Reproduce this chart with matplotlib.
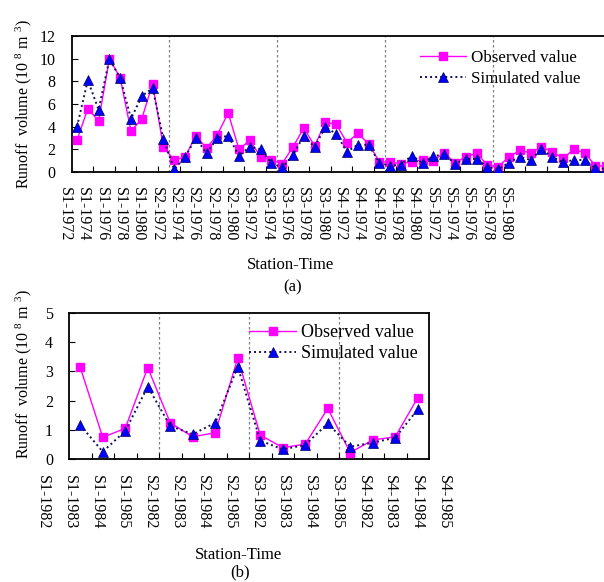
import numpy as np
import matplotlib
matplotlib.use("Agg")
import matplotlib.pyplot as plt
from matplotlib import transforms

plt.rcParams["font.family"] = "Liberation Serif"
plt.rcParams["mathtext.fontset"] = "custom"
plt.rcParams["mathtext.rm"] = "Liberation Serif"

# ── Data ───────────────────────────────────────────────────────────────────────
# (a) calibration period, 10 values per station, labels every other year
labels_a = [f"S{s}-{y}" for s in range(1, 6) for y in (1972, 1974, 1976, 1978, 1980)]
obs_a = [2.8, 5.6, 4.5, 10.0, 8.3, 3.6, 4.7, 7.8, 2.2, 1.05,
         1.3, 3.2, 2.1, 3.3, 5.2, 2.0, 2.8, 1.35, 1.05, 0.75,
         2.2, 3.9, 2.3, 4.4, 4.2, 2.6, 3.4, 2.5, 0.9, 0.85,
         0.75, 0.9, 1.05, 1.0, 1.7, 0.8, 1.35, 1.65, 0.6, 0.45,
         1.35, 1.9, 1.7, 2.2, 1.8, 1.2, 2.0, 1.7, 0.55, 0.5]
sim_a = [4.0, 8.1, 5.5, 9.95, 8.3, 4.7, 6.7, 7.4, 2.9, 0.25,
         1.3, 3.0, 1.65, 3.0, 3.2, 1.4, 2.25, 2.0, 0.8, 0.4,
         1.5, 3.2, 2.2, 4.0, 3.35, 1.8, 2.4, 2.4, 0.82, 0.55,
         0.65, 1.45, 0.78, 1.4, 1.55, 0.75, 1.15, 1.15, 0.45, 0.25,
         0.82, 1.35, 1.06, 2.0, 1.35, 0.85, 1.06, 1.06, 0.32, 0.3]

# (b) validation period
labels_b = [f"S{s}-{y}" for s in range(1, 5) for y in (1982, 1983, 1984, 1985)]
obs_b = [3.14, 0.74, 1.05, 3.13, 1.24, 0.76, 0.9, 3.45,
         0.82, 0.39, 0.51, 1.73, 0.22, 0.65, 0.76, 2.1]
sim_b = [1.16, 0.25, 0.96, 2.48, 1.13, 0.85, 1.24, 3.16,
         0.63, 0.33, 0.48, 1.22, 0.42, 0.56, 0.73, 1.7]

OBS_C = "#FF00FF"
SIM_C = "#0000FF"
SIM_LINE = "#10105A"
YLABEL = r"Runoff  volume (10 $\mathregular{^{8}}$ m $\mathregular{^{3}}$)"

fig = plt.figure(figsize=(6.04, 5.82), dpi=100)
W, H = 604.0, 582.0


def px_axes(l, t, r, b):
    return fig.add_axes([l / W, 1 - b / H, (r - l) / W, (b - t) / H])


def draw(ax, obs, sim, ylim, ystep, seps, mtick_step, ms_sq, ms_tri):
    x = np.arange(1, len(obs) + 1)
    for s in seps:
        ax.axvline(s, color="#7F7F7F", lw=0.9, ls=(0, (2, 2)), zorder=1)
    ax.plot(x, obs, color=OBS_C, lw=1.0, marker="s", ms=ms_sq,
            mfc=OBS_C, mec=OBS_C, zorder=3, label="Observed value")
    ax.plot(x, sim, color=SIM_LINE, lw=1.4, ls=(0, (1, 1.6)), marker="^",
            ms=ms_tri, mfc=SIM_C, mec="#000060", mew=0.5, zorder=4,
            label="Simulated value")
    ax.set_xlim(0.5, len(obs) + 0.5)
    ax.set_ylim(*ylim)
    ax.set_yticks(np.arange(ylim[0], ylim[1] + 0.1, ystep))
    ax.set_xticks([])
    ax.set_xticks(np.arange(0.5 + mtick_step, len(obs) + 0.5, mtick_step), minor=True)
    ax.tick_params(axis="x", which="minor", direction="in", length=4, width=0.8)
    ax.tick_params(axis="y", direction="in", length=4, width=0.8, labelsize=11.5, pad=11.5)
    for sp in ax.spines.values():
        sp.set_linewidth(1.3)
    ax.set_ylabel(YLABEL, fontsize=11.5)


def station_labels(ax, pos, labels, drop):
    tr = transforms.offset_copy(ax.get_xaxis_transform(), fig=fig, y=-drop, units="dots")
    for xp, lab in zip(pos, labels):
        ax.text(xp, 0, lab, transform=tr, rotation=270, fontsize=11.5,
                ha="center", va="top", clip_on=False)


# ── (a) ────────────────────────────────────────────────────────────────────────
ax1 = px_axes(71.6, 36, 611.6, 172)
draw(ax1, obs_a, sim_a, (0, 12), 2, [9.5, 19.5, 29.5, 39.5], 2, 5.5, 7)
lab_x = (65 + 18.33 * np.arange(len(labels_a)) - 71.6) / 10.8 + 0.5
station_labels(ax1, lab_x, labels_a, 15)
ax1.yaxis.set_label_coords(-0.07, 0.5)
ax1.legend(loc="upper left", bbox_to_anchor=(0.62, 1.0), frameon=False,
           fontsize=12.2, handlelength=2.7, handletextpad=0.3,
           labelspacing=0.3, borderaxespad=0.4)
fig.text(290 / W, 1 - 265 / H, "Station-Time", fontsize=12, ha="center", va="center")
fig.text(293 / W, 1 - 287 / H, "(a)", fontsize=12, ha="center", va="center")

# ── (b) ────────────────────────────────────────────────────────────────────────
ax2 = px_axes(69, 313, 429, 459)
draw(ax2, obs_b, sim_b, (0, 5), 1, [4.5, 8.5, 12.5], 1, 5.2, 7.5)
lab_xb = (43 + 26.7 * np.arange(len(labels_b)) - 69) / 22.5 + 0.5
station_labels(ax2, lab_xb, labels_b, 16)
ax2.yaxis.set_label_coords(-0.097, 0.58)
ax2.legend(loc="upper right", frameon=False, fontsize=13, handlelength=2.6,
           handletextpad=0.3, labelspacing=0.25, borderaxespad=0.2)
fig.text(238 / W, 1 - 555 / H, "Station-Time", fontsize=12, ha="center", va="center")
fig.text(240 / W, 1 - 572 / H, "(b)", fontsize=12, ha="center", va="center")

fig.savefig("out.png", dpi=100)
